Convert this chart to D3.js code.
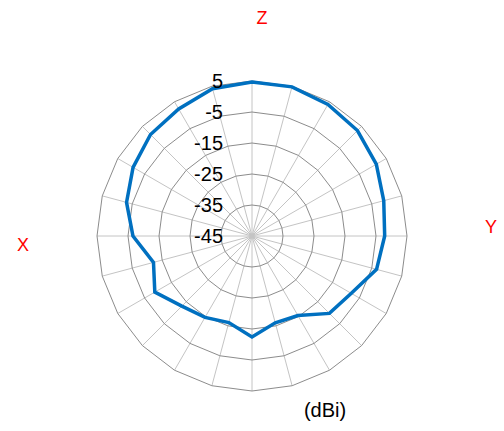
<!DOCTYPE html>
<html>
<head>
<meta charset="utf-8">
<script src="https://cdn.jsdelivr.net/npm/d3@7"></script>
<style>
  body { margin: 0; background: #fff; }
  text { font-family: "Liberation Sans", Arial, sans-serif; }
</style>
</head>
<body>
<script>
// Set dimensions
const width = 504, height = 431;
const cx = 252, cy = 236, outerR = 155;

// Data: gain (dBi) every 15 degrees, clockwise from Z (top)
const angles = d3.range(0, 360, 15);
const gain = [4.7, 4.8, 4.0, 3.1, 1.3, -1.0, -2.2, -3.4, -8.0, -9.7, -15.4, -16.0,
              -12.4, -16.1, -14.7, -13.0, -8.8, -12.1, -6.6, -3.1, -0.7, 1.3, 2.3, 4.2];
const tickValues = [5, -5, -15, -25, -35, -45];
const ringValues = [-35, -25, -15, -5, 5];
const axisNames = [
    { name: "Z", x: 262, y: 24 },
    { name: "X", x: 23, y: 251 },
    { name: "Y", x: 491, y: 233 }
];
const unitLabel = "(dBi)";

const svg = d3.select("body").append("svg")
    .attr("width", width)
    .attr("height", height);

const r = d3.scaleLinear().domain([-45, 5]).range([0, outerR]);
const a = d3.scaleLinear().domain([0, 360]).range([0, 2 * Math.PI]);

const g = svg.append("g").attr("transform", `translate(${cx},${cy})`);

// Spokes
g.selectAll(".spoke")
    .data(angles)
    .enter().append("line")
    .attr("x1", 0).attr("y1", 0)
    .attr("x2", d => outerR * Math.sin(a(d)))
    .attr("y2", d => -outerR * Math.cos(a(d)))
    .attr("stroke", "#c4c4c4")
    .attr("stroke-width", 1);

// Polygon rings
const ringLine = d3.lineRadial()
    .angle(d => a(d.angle))
    .radius(d => r(d.value))
    .curve(d3.curveLinearClosed);

g.selectAll(".ring")
    .data(ringValues)
    .enter().append("path")
    .attr("d", v => ringLine(angles.map(ang => ({ angle: ang, value: v }))))
    .attr("fill", "none")
    .attr("stroke", "#8c8c8c")
    .attr("stroke-width", 1);

// Gain curve
g.append("path")
    .datum(angles.map((ang, i) => ({ angle: ang, value: gain[i] })))
    .attr("d", ringLine)
    .attr("fill", "none")
    .attr("stroke", "#0070c0")
    .attr("stroke-width", 3.5)
    .attr("stroke-linejoin", "miter");

// Tick labels
g.selectAll(".tick")
    .data(tickValues)
    .enter().append("text")
    .attr("x", -29)
    .attr("y", d => -r(d))
    .attr("dy", "0.36em")
    .attr("text-anchor", "end")
    .attr("font-size", 20)
    .attr("fill", "#000")
    .text(d => d);

// Axis names
svg.selectAll(".axname")
    .data(axisNames)
    .enter().append("text")
    .attr("x", d => d.x)
    .attr("y", d => d.y)
    .attr("text-anchor", "middle")
    .attr("font-size", 18)
    .attr("fill", "#ff0000")
    .text(d => d.name);

svg.append("text")
    .attr("x", 325)
    .attr("y", 417)
    .attr("text-anchor", "middle")
    .attr("font-size", 20)
    .attr("fill", "#000")
    .text(unitLabel);
</script>
</body>
</html>
